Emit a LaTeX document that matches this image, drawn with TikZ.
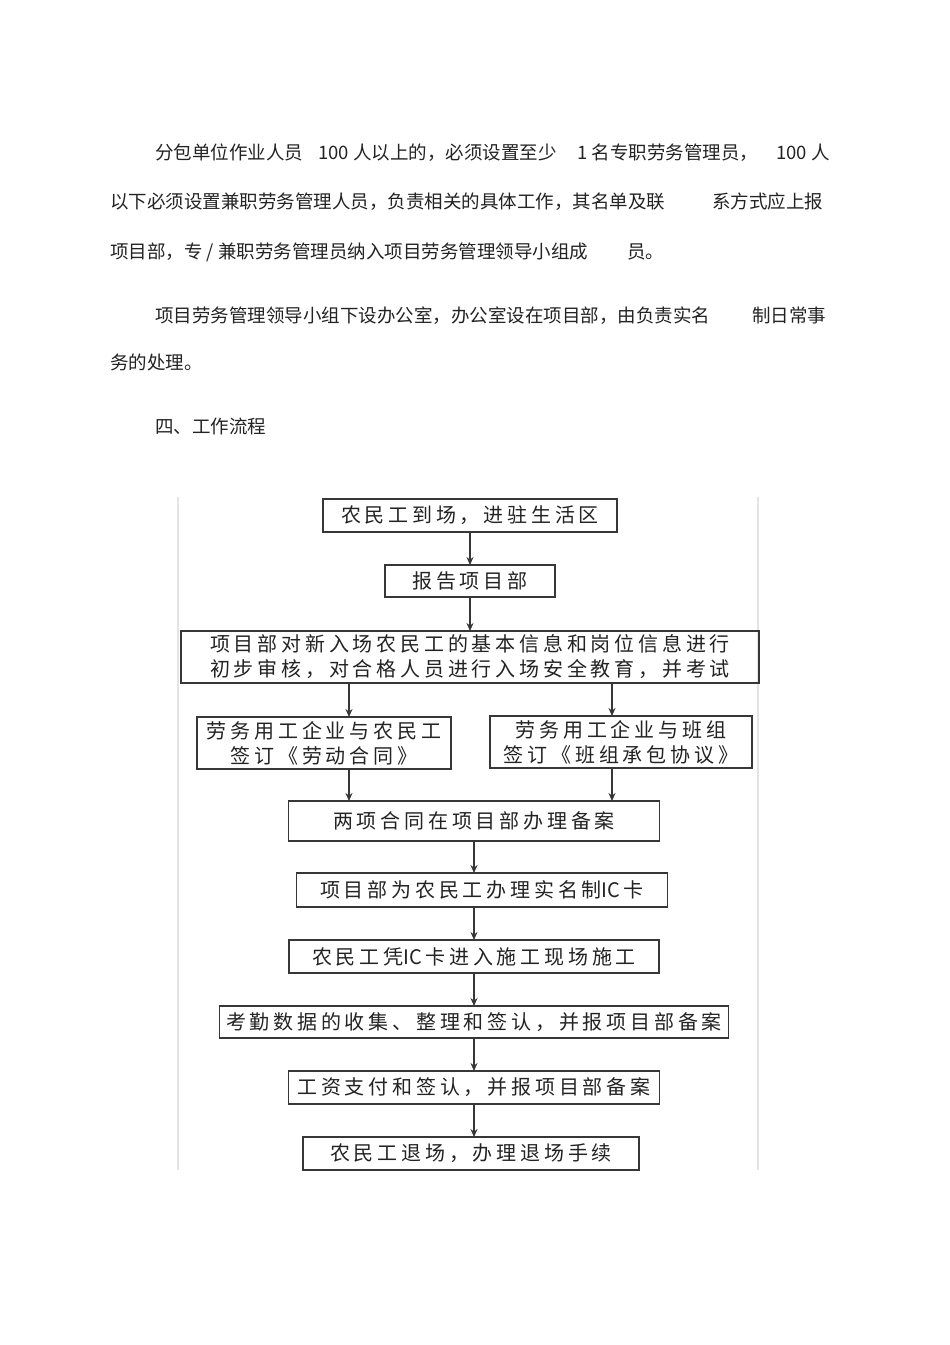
\documentclass[tikz,border=0pt]{standalone}
\usepackage{fontspec}
\setmainfont{Noto Sans CJK SC}
\newfontfamily\flowcjk[LetterSpace=19]{Noto Sans CJK SC}
\newfontfamily\flowtight{Noto Sans CJK SC}
\usepackage{tikz}
\usetikzlibrary{positioning, arrows.meta}
\definecolor{inkgray}{RGB}{35,35,35}
\definecolor{boxgray}{RGB}{55,55,55}
\definecolor{framegray}{RGB}{228,228,228}

\begin{document}
\begin{tikzpicture}[
    x=1pt, y=1pt,
    line/.style={anchor=base west, inner sep=0pt, font=\fontsize{18.5}{22}\selectfont, text=inkgray},
    box/.style={rectangle, draw=boxgray, line width=1.6pt, inner sep=0pt, outer sep=0pt, align=center, font=\flowcjk\fontsize{20}{25}\selectfont, text=inkgray},
    arrow/.style={-{Stealth[length=8pt,width=7pt]}, line width=1.6pt, draw=boxgray}
]
\fill[white] (0,0) rectangle (950,-1345);
\useasboundingbox (0,0) rectangle (950,-1345);

% Text above the chart
\node[line] (p1a) at (155,-159) {分包单位作业人员};
\node[line] (p1b) at (318,-159) {100 人以上的，必须设置至少};
\node[line] (p1c) at (577,-159) {1 名专职劳务管理员，};
\node[line] (p1d) at (776,-159) {100 人};
\node[line] (p2a) at (110,-208) {以下必须设置兼职劳务管理人员，负责相关的具体工作，其名单及联};
\node[line] (p2b) at (712,-208) {系方式应上报};
\node[line] (p3a) at (110,-258) {项目部，专 / 兼职劳务管理员纳入项目劳务管理领导小组成};
\node[line] (p3b) at (627,-258) {员。};
\node[line] (q1a) at (155,-322) {项目劳务管理领导小组下设办公室，办公室设在项目部，由负责实名};
\node[line] (q1b) at (752,-322) {制日常事};
\node[line] (q2a) at (110,-369) {务的处理。};
\node[line] (head) at (155,-433) {四、工作流程};

% Frame
\draw[framegray, line width=1.2pt] (178,-497) -- (178,-1170);
\draw[framegray, line width=1.2pt] (758,-497) -- (758,-1170);

% Flow chart
\node[box, minimum width=294pt, minimum height=33pt] (arrive) at (470,-515.5) {农民工到场，进驻生活区};
\node[box, minimum width=170pt, minimum height=32pt, below=33pt of arrive] (report) {报告项目部};
\node[box, minimum width=578pt, minimum height=52pt, below=34pt of report] (check) {项目部对新入场农民工的基本信息和岗位信息进行\\初步审核，对合格人员进行入场安全教育，并考试};
\node[box, minimum width=254pt, minimum height=52pt, below right=34pt and 16pt of check.south west, anchor=north west] (labour) {劳务用工企业与农民工\\签订《劳动合同》};
\node[box, minimum width=262pt, minimum height=52pt, below left=33pt and 7pt of check.south east, anchor=north east] (team) {劳务用工企业与班组\\签订《班组承包协议》};
\coordinate (lcol) at (349,0);
\coordinate (rcol) at (612,0);
\coordinate (midrow) at (labour.south -| check.south);
\node[box, minimum width=371pt, minimum height=40pt, below=32pt of midrow, xshift=4pt] (record) {两项合同在项目部办理备案};
\node[box, minimum width=371pt, minimum height=34pt, below=32pt of record, xshift=8pt] (iccard) {项目部为农民工办理实名制{\flowtight IC}\,卡};
\node[box, minimum width=370pt, minimum height=33pt, below=33pt of iccard, xshift=-8pt] (enter) {农民工凭{\flowtight IC}\,卡进入施工现场施工};
\node[box, minimum width=509pt, minimum height=32pt, below=33pt of enter] (attend) {考勤数据的收集、整理和签认，并报项目部备案};
\node[box, minimum width=371pt, minimum height=33pt, below=33pt of attend] (wage) {工资支付和签认，并报项目部备案};
\node[box, minimum width=336pt, minimum height=33pt, below=33pt of wage, xshift=-3pt] (leave) {农民工退场，办理退场手续};

% Arrows
\draw[arrow] (arrive) -- (report);
\draw[arrow] (report) -- (check);
\draw[arrow] (check.south -| lcol) -- (labour.north -| lcol);
\draw[arrow] (check.south -| rcol) -- (team.north -| rcol);
\draw[arrow] (labour.south -| lcol) -- (record.north -| lcol);
\draw[arrow] (team.south -| rcol) -- (record.north -| rcol);
\draw[arrow] (record.south) -- (record.south |- iccard.north);
\draw[arrow] (iccard.south -| enter.north) -- (enter.north);
\draw[arrow] (enter) -- (attend);
\draw[arrow] (attend) -- (wage);
\draw[arrow] (wage.south) -- (wage.south |- leave.north);

\end{tikzpicture}
\end{document}
